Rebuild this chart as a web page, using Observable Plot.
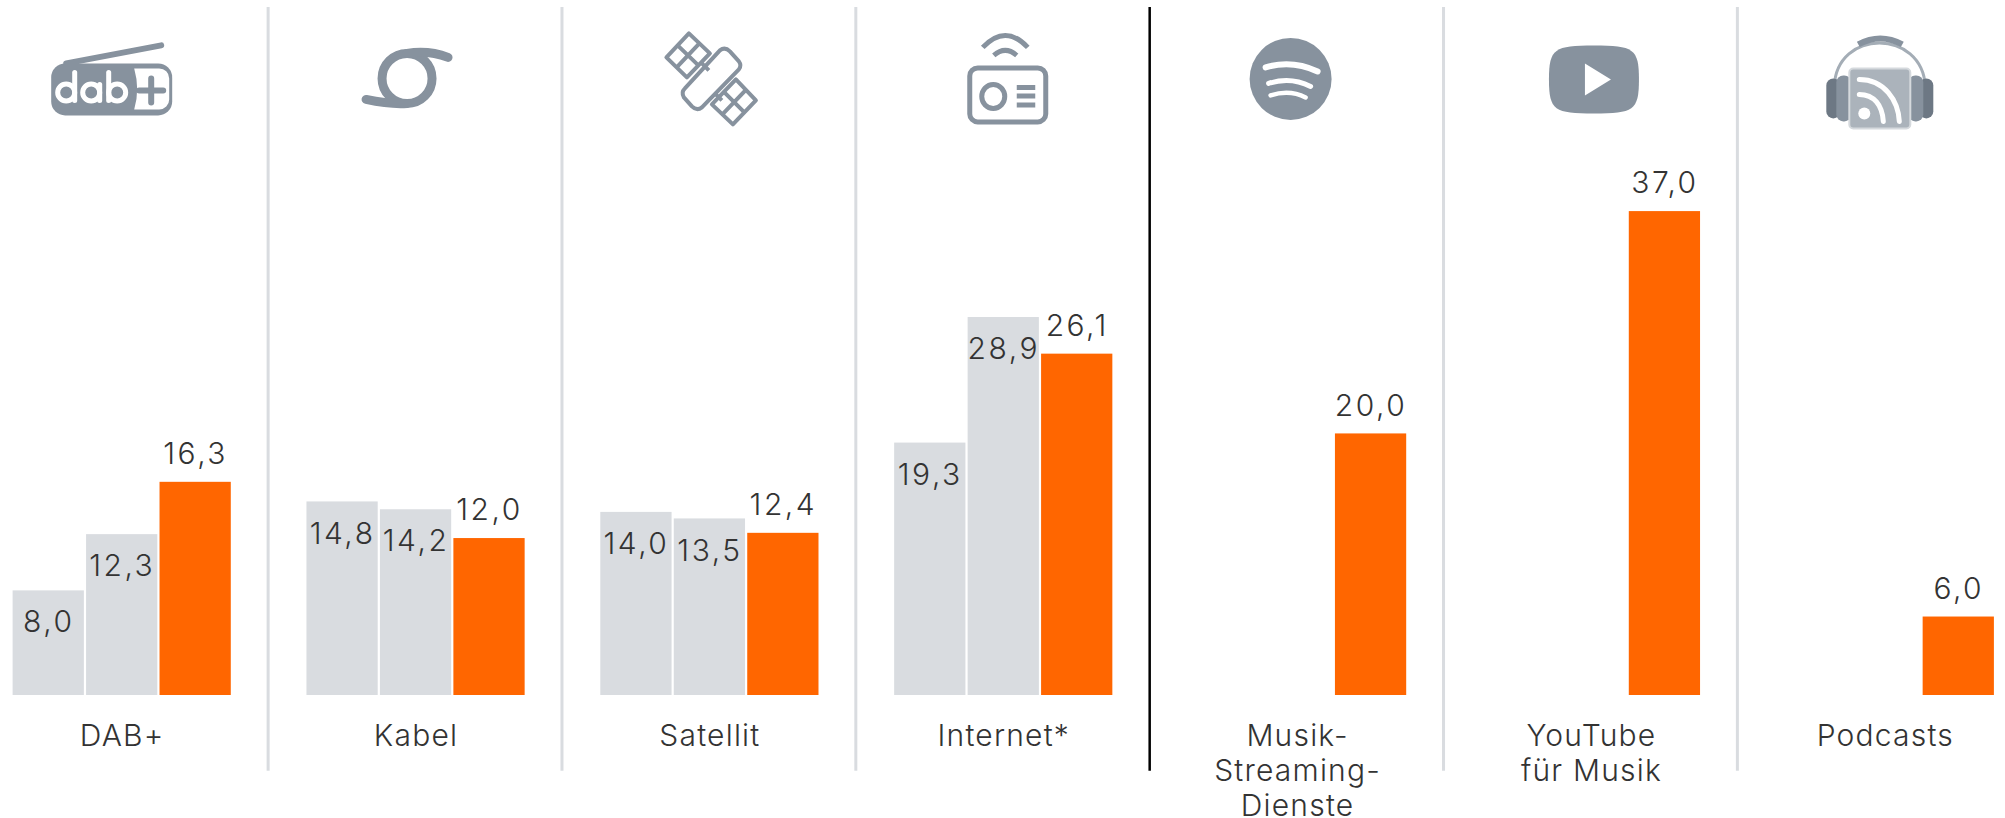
<!DOCTYPE html>
<html><head><meta charset="utf-8">
<script src="https://cdn.jsdelivr.net/npm/d3@7"></script>
<script src="https://cdn.jsdelivr.net/npm/@observablehq/plot@0.6"></script>
<style>html,body{margin:0;padding:0;background:#fff;overflow:hidden}svg{display:block}
.num{letter-spacing:2.5px}.lab{letter-spacing:1.2px}</style>
</head><body><div id="chart"></div>
<script>
const groups = ["DAB+","Kabel","Satellit","Internet*","Musik-\nStreaming-\nDienste","YouTube\nfür Musik","Podcasts"];
const earlier = [8.0,14.8,14.0,19.3,null,null,null];
const middle  = [12.3,14.2,13.5,28.9,null,null,null];
const latest  = [16.3,12.0,12.4,26.1,20.0,37.0,6.0];
const GREY="#d9dce0", ORANGE="#ff6600", INK="#333333", IC="#87929e";

const enc = s => "data:image/svg+xml;charset=utf-8," + encodeURIComponent(
  `<svg xmlns="http://www.w3.org/2000/svg" viewBox="0 0 160 100" width="160" height="100">${s}</svg>`);
const icons = [
 // dab+
 `<path d="M25 33L120 15" stroke="${IC}" stroke-width="6" stroke-linecap="round"/>
  <rect x="10" y="33" width="121" height="52" rx="14" fill="${IC}"/>
  <path d="M93 38H118a10 10 0 0 1 10 10V69a10 10 0 0 1-10 10H93q6-20 0-41z" fill="#fff"/>
  <path d="M98 60h24M110 48v24" stroke="${IC}" stroke-width="6" stroke-linecap="round"/>
  <g fill="none" stroke="#fff" stroke-width="5" stroke-linecap="round"><circle cx="25" cy="62" r="8.5"/><path d="M33.5 42V70"/><circle cx="50" cy="62" r="8.5"/><path d="M58.5 54V70"/><circle cx="76" cy="62" r="8.5"/><path d="M67.5 42V70"/></g>`,
 // Kabel
 `<g fill="none" stroke="${IC}" stroke-width="9" stroke-linecap="round"><circle cx="72" cy="48" r="25"/><path d="M113 27C100 22 84 21 72 23"/><path d="M31 69C45 72 58 74 72 73"/></g>`,
 // Satellit
 `<g fill="none" stroke="${IC}" stroke-width="4" stroke-linejoin="round"><path d="M60 3L81 23L58 47L37.5 27Z"/><path d="M107 49L127 70L104 94L83 74Z"/><path d="M70.5 13L47.75 37M48.75 15L69.5 35M117 59.5L93.5 84M95 61.5L115.5 82"/><path d="M91 20Q96 16 101 21L110 31Q113 35 110 39L73 77Q68 81 63 76L55 67Q52 62 56 58Z"/><path d="M73 33L80 40M86 63L93 70"/></g>`,
 // Internet
 `<g fill="none" stroke="${IC}" stroke-width="5"><rect x="47" y="37.5" width="76" height="54" rx="8"/><ellipse cx="70.5" cy="66" rx="11.5" ry="12"/><path d="M60 17Q82.5 -7 105 17M71 25Q82.5 15 94 25"/><path d="M94 57H112.5M94 65.5H112.5M94 74.5H112.5"/></g>`,
 // Musik-Streaming
 `<circle cx="74" cy="48.5" r="41" fill="${IC}"/><g fill="none" stroke="#fff" stroke-linecap="round"><path d="M49 37Q75 29 101 41" stroke-width="6"/><path d="M52 53Q74 46 94 56" stroke-width="5"/><path d="M54 65Q73 59 89 67" stroke-width="4.5"/></g>`,
 // YouTube
 `<path d="M38.5 49C38.5 18 44 15 83.5 15C123 15 128.5 18 128.5 49C128.5 80 123 83 83.5 83C44 83 38.5 80 38.5 49Z" fill="${IC}"/><path d="M74.5 33L100.5 49L74.5 65Z" fill="#fff"/>`,
 // Podcasts
 `<path d="M30 56C32 -2 118 -2 121 56" fill="none" stroke="#a4adb6" stroke-width="3"/>
  <path d="M54 14Q76 2 98 14" fill="none" stroke="${IC}" stroke-width="6"/>
  <rect x="22" y="48" width="14" height="40" rx="7" fill="#6d7884"/><rect x="32" y="45" width="15" height="46" rx="7" fill="${IC}"/>
  <rect x="115" y="48" width="14" height="40" rx="7" fill="#6d7884"/><rect x="104" y="45" width="15" height="46" rx="7" fill="${IC}"/>
  <rect x="45" y="38" width="61" height="60" rx="4" fill="#abb3bb" stroke="#d5d9dd" stroke-width="2"/>
  <circle cx="60" cy="83" r="6" fill="#fff"/>
  <g fill="none" stroke="#fff" stroke-linecap="round"><path d="M55 64C70 64 78 75 79 91" stroke-width="5"/><path d="M55 49C80 49 94 70 95 91" stroke-width="5"/></g>`
];

const slot = (i,j) => `${i}:${j}`;
const domain = groups.flatMap((_,i) => i < groups.length-1 ? [0,1,2,3].map(j=>slot(i,j)) : [0,1,2].map(j=>slot(i,j)));
const series = [[earlier,0,GREY],[middle,1,GREY],[latest,2,ORANGE]];
const bars = series.flatMap(([vals,j,c]) => vals.map((v,i)=>({slot:slot(i,j),v,c,inside:j<2})).filter(d=>d.v!=null));
const fmt = v => v.toFixed(1).replace(".",",");
const panels = groups.map((g,i)=>({g,mid:slot(i,1),icon:enc(icons[i])}));
const dividers = groups.slice(0,-1).map((_,i)=>({x:slot(i,3),c:i===3?"#000000":GREY,w:i===3?2.5:3}));
const font = {fontFamily:"Inter,'Liberation Sans',sans-serif",fontWeight:300,fill:INK};

const chart = Plot.plot({
  width:2005,height:818,marginLeft:11.5,marginRight:10,marginTop:0,marginBottom:123,
  style:{background:"#fff"},
  x:{type:"band",domain,paddingInner:0.03,paddingOuter:0.015,round:false,axis:null},
  y:{domain:[0,53.14],axis:null},
  marks:[
    Plot.ruleX(dividers,{x:"x",dx:-1,y1:-5.8,y2:52.6,stroke:"c",strokeWidth:"w"}),
    Plot.barY(bars,{x:"slot",y:"v",fill:"c",inset:0}),
    Plot.text(bars,{x:"slot",y:"v",text:d=>fmt(d.v),...font,fontSize:30,className:"num",filter:d=>d.inside,dy:32}),
    Plot.text(bars,{x:"slot",y:"v",text:d=>fmt(d.v),...font,fontSize:30,className:"num",filter:d=>!d.inside,dy:-28}),
    Plot.text(panels,{x:"mid",y:0,text:"g",lineAnchor:"top",dy:26,lineHeight:1.16,...font,fontSize:30,className:"lab"}),
    Plot.image(panels,{x:"mid",dx:-1,y:47.03,src:"icon",width:160,height:100})
  ]
});
document.getElementById("chart").append(chart);
</script></body></html>
